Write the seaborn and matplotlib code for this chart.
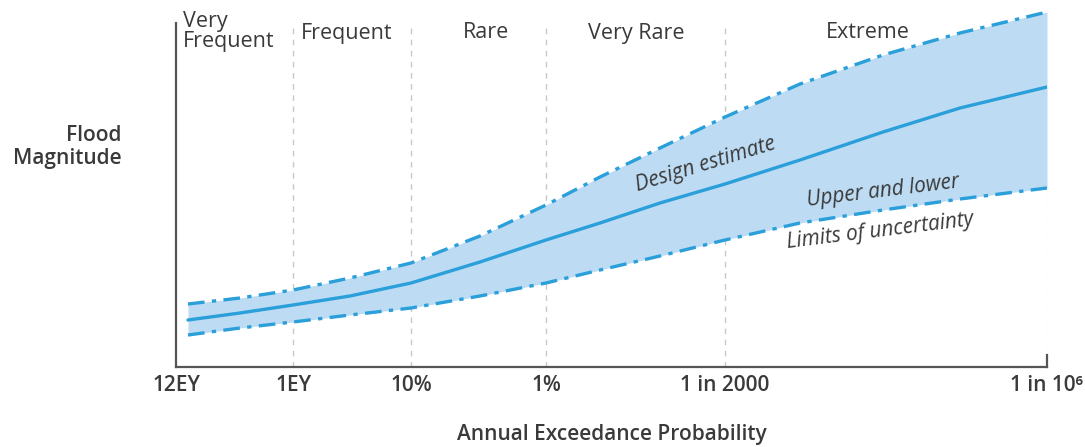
import pandas as pd
import matplotlib.pyplot as plt
import seaborn as sns

# positions along the probability axis (arbitrary units, not to scale)
x_pos = [12, 64, 117, 174, 235, 304, 370, 424, 484, 549, 624, 707, 784, 871]
design = [47, 54, 62, 71, 84, 105, 127, 144, 164, 183, 207, 235, 259, 280]
upper = [63, 69, 77, 89, 104, 131, 162, 190, 219, 250, 283, 312, 334, 355]
lower = [32, 39, 45, 52, 59, 71, 84, 97, 111, 127, 144, 157, 168, 179]

tick_pos = [0, 117, 235, 370, 549, 871]
tick_labels = ['12EY', '1EY', '10%', '1%', '1 in 2000', '1 in 10\u2076']

zone_names = ['Very\nFrequent', 'Frequent', 'Rare', 'Very Rare', 'Extreme']

LINE = '#2a9fda'
FILL = '#bddcf3'
GREY = '#3a3a3a'

sns.set_style('white')
plt.rcParams['font.family'] = ['Open Sans', 'DejaVu Sans']

df = pd.DataFrame({'x': x_pos, 'design': design, 'upper': upper, 'lower': lower})

fig = plt.figure(figsize=(10.85, 4.47), dpi=100)
ax = fig.add_axes([176 / 1085, 80 / 447, 871 / 1085, 357 / 447])

ax.fill_between(df['x'], df['lower'], df['upper'], color=FILL, lw=0, zorder=1)
sns.lineplot(data=df, x='x', y='design', color=LINE, lw=2.4, ax=ax, zorder=3)
for col in ['upper', 'lower']:
    sns.lineplot(data=df, x='x', y=col, color=LINE, lw=2.4, ax=ax, zorder=3)
    ax.lines[-1].set_dashes((5, 2.2, 1.3, 2.2))

# zone boundaries
for xp in tick_pos[1:-1]:
    ax.axvline(xp, ymax=0.96, color='#c8c8c8', lw=1, ls=(0, (4, 4)), zorder=0)
ax.axvline(tick_pos[-1], ymax=0.96, color='#d6d6d6', lw=1, ls=(0, (1, 3)), zorder=0)

ax.set_xlim(0, 871)
ax.set_ylim(0, 357)
ax.set_xticks(tick_pos)
ax.set_xticklabels(tick_labels, fontsize=15, fontweight='semibold', color=GREY)
ax.tick_params(axis='x', length=0, pad=6)
ax.set_yticks([])
ax.set_xlabel('Annual Exceedance Probability', fontsize=15, fontweight='semibold',
              color=GREY, labelpad=20)
ax.set_ylabel('')
fig.text(122 / 1085, 1 - 147 / 447, 'Flood\nMagnitude', ha='right', va='center',
         fontsize=15, fontweight='semibold', color=GREY, linespacing=1.15)

ax.spines['top'].set_visible(False)
for side in ['left', 'bottom', 'right']:
    ax.spines[side].set_color('#555555')
    ax.spines[side].set_linewidth(1.6)
ax.spines['left'].set_bounds(0, 344)
ax.spines['right'].set_bounds(0, 12)

# zone names
ax.text(7, 356, zone_names[0], ha='left', va='top', fontsize=15.5, color=GREY,
        linespacing=0.95)
zone_x = [171, 310, 460, 692]
for name, xp in zip(zone_names[1:], zone_x):
    ax.text(xp, 334, name, ha='center', va='center', fontsize=15.5, color=GREY)

# curve annotations
ax.text(530, 202, 'Design estimate', rotation=17, ha='center', va='center',
        fontsize=15, style='italic', color=GREY)
ax.text(707, 176, 'Upper and lower', rotation=7, ha='center', va='center',
        fontsize=15, style='italic', color=GREY)
ax.text(704, 136, 'Limits of uncertainty', rotation=7, ha='center', va='center',
        fontsize=15, style='italic', color=GREY)

fig.savefig('out.png', dpi=100)
